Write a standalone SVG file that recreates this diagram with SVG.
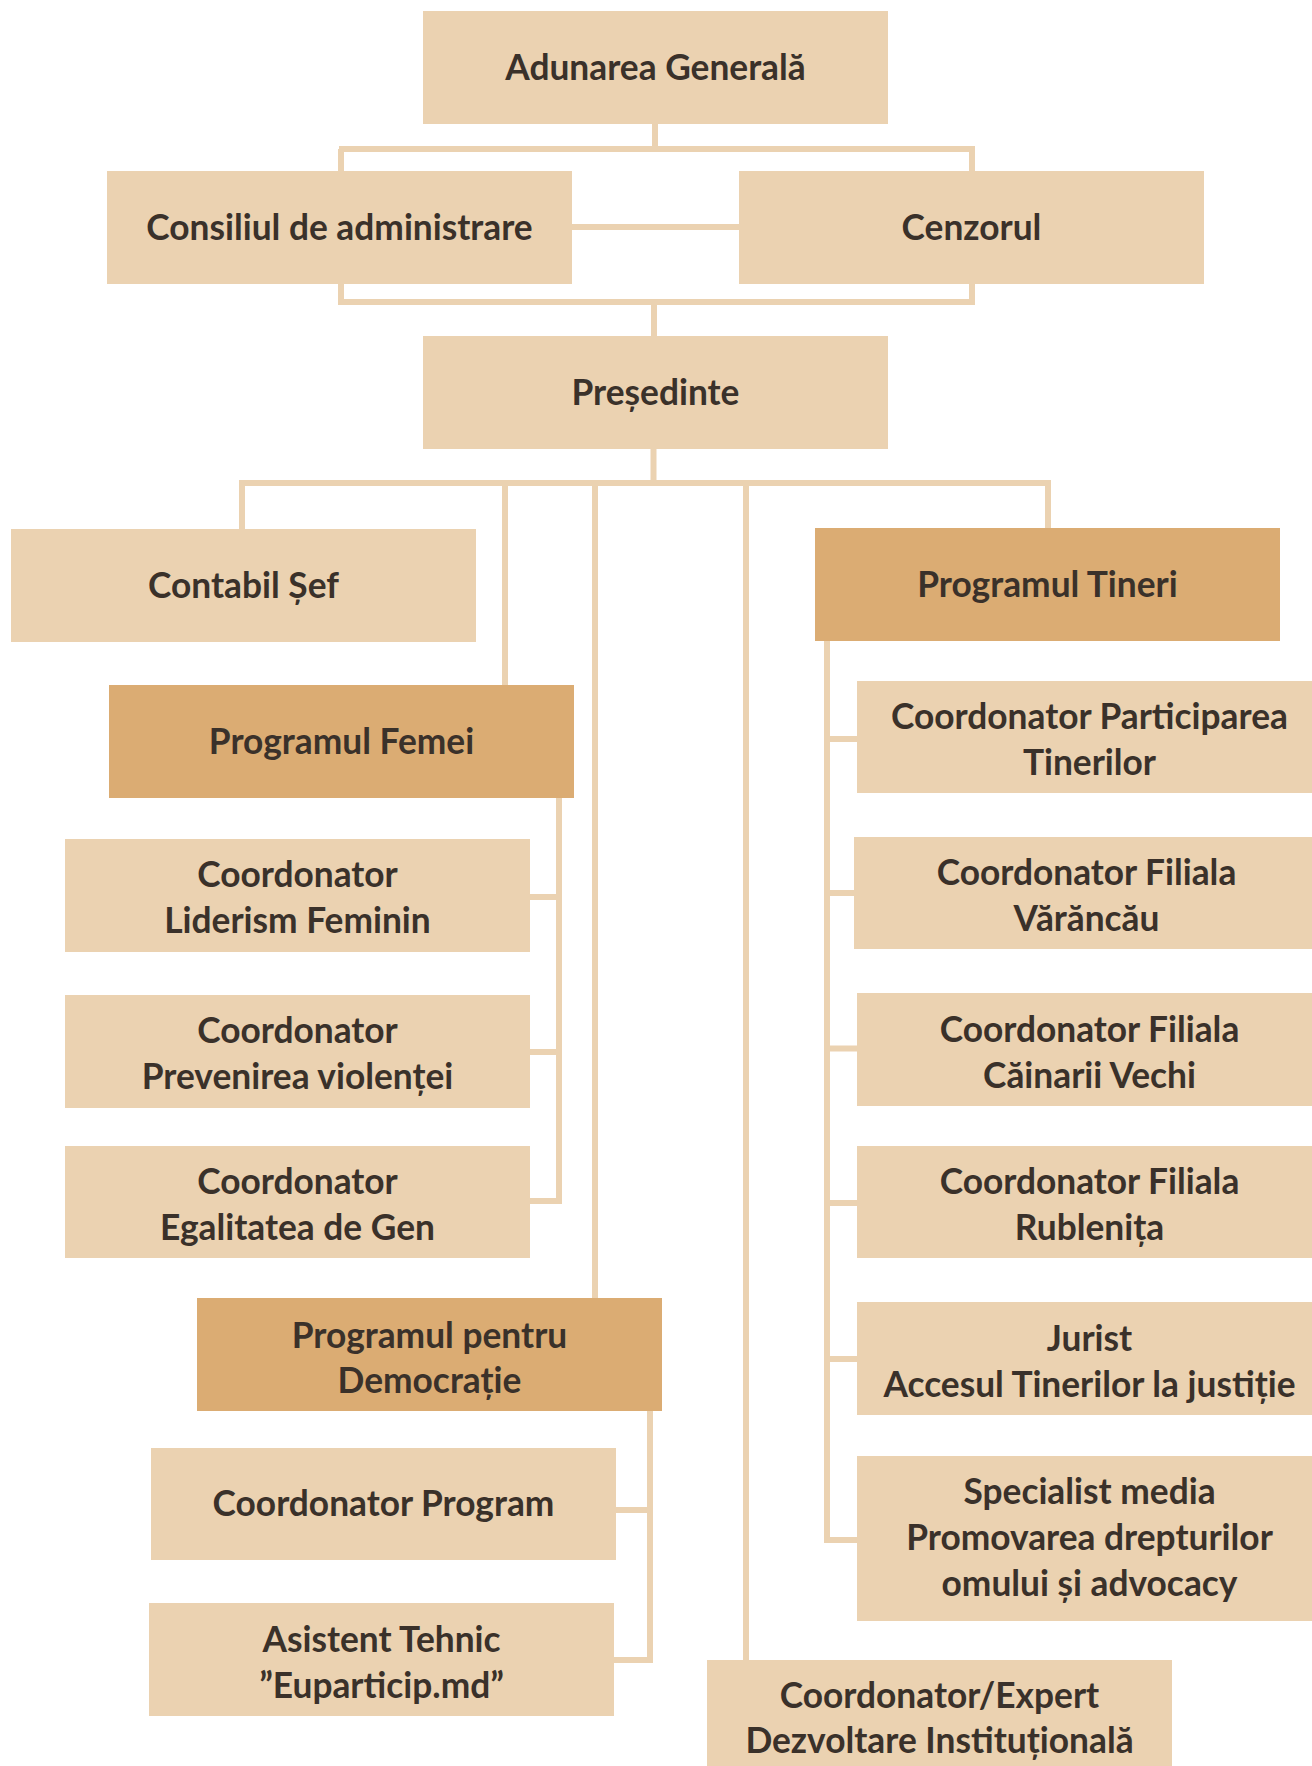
<svg xmlns="http://www.w3.org/2000/svg" width="1312" height="1766" viewBox="0 0 1312 1766">
<style>
.n{fill:#EBD2B1}
.d{fill:#DBAC73}
.c{fill:none;stroke:#EBD2B1;stroke-width:6}
text{font-family:Lato,"Open Sans","Noto Sans",sans-serif;font-weight:700;font-size:35.3px;fill:#3A312A;text-anchor:middle}
</style>
<rect width="1312" height="1766" fill="#FFFFFF"/>
<g id="connectors">
<path class="c" d="M655,124V149M339,149H975M341,149V171M972,149V171"/>
<path class="c" d="M572,227H739"/>
<path class="c" d="M341,284V302H972V284M654,302V336"/>
<path class="c" d="M653.5,449V483M239,483H1051M242,483V529M505,483V685M595,483V1298M746,483V1660M1048,483V528"/>
<path class="c" d="M559,798V1201H530M530,897H559M530,1052H559"/>
<path class="c" d="M650,1411V1660H614M616,1510H650"/>
<path class="c" d="M857,1540H827V641M827,739H857M827,893H854M827,1048.5H857M827,1203H857M827,1359H857"/>
</g>
<g id="n-adunarea"><rect class="n" x="423" y="11" width="465" height="113"/><text x="655.5" y="80">Adunarea Generală</text></g>
<g id="n-consiliul"><rect class="n" x="107" y="171" width="465" height="113"/><text x="339.5" y="239.5">Consiliul de administrare</text></g>
<g id="n-cenzorul"><rect class="n" x="739" y="171" width="465" height="113"/><text x="971.5" y="239.5">Cenzorul</text></g>
<g id="n-presedinte"><rect class="n" x="423" y="336" width="465" height="113"/><text x="655.5" y="404.5">Președinte</text></g>
<g id="n-contabil"><rect class="n" x="11" y="529" width="465" height="113"/><text x="243.5" y="597.5">Contabil Șef</text></g>
<g id="n-tineri"><rect class="d" x="815" y="528" width="465" height="113"/><text x="1047.5" y="596.5">Programul Tineri</text></g>
<g id="n-femei"><rect class="d" x="109" y="685" width="465" height="113"/><text x="341.5" y="753.5">Programul Femei</text></g>
<g id="n-participarea"><rect class="n" x="857" y="681" width="465" height="112"/><text x="1089.5" y="729">Coordonator Participarea</text><text x="1089.5" y="775">Tinerilor</text></g>
<g id="n-liderism"><rect class="n" x="65" y="839" width="465" height="113"/><text x="297.5" y="887">Coordonator</text><text x="297.5" y="933">Liderism Feminin</text></g>
<g id="n-varancau"><rect class="n" x="854" y="837" width="465" height="112"/><text x="1086.5" y="885">Coordonator Filiala</text><text x="1086.5" y="931">Vărăncău</text></g>
<g id="n-prevenirea"><rect class="n" x="65" y="995" width="465" height="113"/><text x="297.5" y="1043">Coordonator</text><text x="297.5" y="1089">Prevenirea violenței</text></g>
<g id="n-cainarii"><rect class="n" x="857" y="993" width="465" height="113"/><text x="1089.5" y="1041.5">Coordonator Filiala</text><text x="1089.5" y="1087.5">Căinarii Vechi</text></g>
<g id="n-egalitatea"><rect class="n" x="65" y="1146" width="465" height="112"/><text x="297.5" y="1194">Coordonator</text><text x="297.5" y="1240">Egalitatea de Gen</text></g>
<g id="n-rublenita"><rect class="n" x="857" y="1146" width="465" height="112"/><text x="1089.5" y="1194">Coordonator Filiala</text><text x="1089.5" y="1240">Rublenița</text></g>
<g id="n-democratie"><rect class="d" x="197" y="1298" width="465" height="113"/><text x="429.5" y="1347.5">Programul pentru</text><text x="429.5" y="1393">Democrație</text></g>
<g id="n-jurist"><rect class="n" x="857" y="1302" width="465" height="113"/><text x="1089.5" y="1350.5">Jurist</text><text x="1089.5" y="1396.5">Accesul Tinerilor la justiție</text></g>
<g id="n-program"><rect class="n" x="151" y="1448" width="465" height="112"/><text x="383.5" y="1516">Coordonator Program</text></g>
<g id="n-specialist"><rect class="n" x="857" y="1456" width="465" height="165"/><text x="1089.5" y="1504">Specialist media</text><text x="1089.5" y="1550">Promovarea drepturilor</text><text x="1089.5" y="1596">omului și advocacy</text></g>
<g id="n-asistent"><rect class="n" x="149" y="1603" width="465" height="113"/><text x="381.5" y="1651.5">Asistent Tehnic</text><text x="381.5" y="1697.5">”Euparticip.md”</text></g>
<g id="n-expert"><rect class="n" x="707" y="1660" width="465" height="113"/><text x="939.5" y="1707.5">Coordonator/Expert</text><text x="939.5" y="1753">Dezvoltare Instituțională</text></g>
</svg>
